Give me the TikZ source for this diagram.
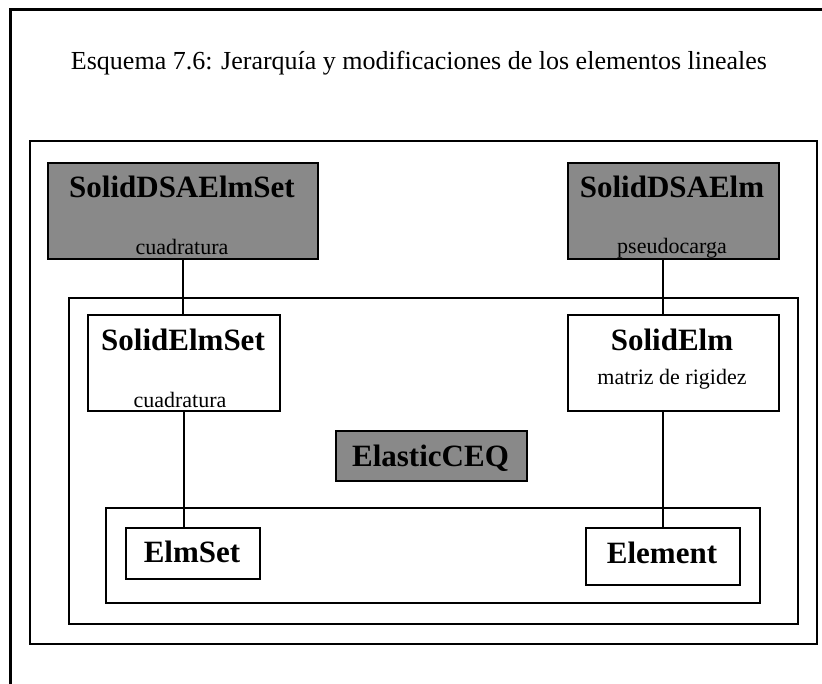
\documentclass[tikz,border=0pt]{standalone}
\usepackage{fontspec}
\setmainfont{Liberation Serif}
\definecolor{boxgray}{RGB}{137,137,137}
\begin{document}
\begin{tikzpicture}[x=1pt,y=-1pt,
  frame/.style={draw=black, line width=1.6pt, rectangle, inner sep=0pt, anchor=north west},
  box/.style={frame, fill=white},
  shaded/.style={frame, fill=boxgray},
  cls/.style={font=\fontsize{31}{31}\selectfont\bfseries, anchor=base, inner sep=0pt},
  note/.style={font=\fontsize{22}{22}\selectfont, anchor=base, inner sep=0pt},
  link/.style={line width=1.6pt}]

\useasboundingbox (0,0) rectangle (822,684);
\fill[white] (0,0) rectangle (822,684);

% page frame (left and top edges)
\draw[line width=3pt] (10.5,684) -- (10.5,9.5) -- (822,9.5);

% caption
\node[font=\fontsize{26}{26}\selectfont, anchor=base, inner sep=0pt] (title) at (419,70)
  {Esquema 7.6: Jerarquía y modificaciones de los elementos lineales};

% nested frames
\node[frame, minimum width=787pt, minimum height=503pt] (outer) at (29,140) {};
\node[frame, minimum width=729pt, minimum height=326pt] (middle) at (68,297) {};
\node[frame, minimum width=654pt, minimum height=95pt] (inner) at (105,507) {};

% sensitivity-analysis classes
\node[shaded, minimum width=270pt, minimum height=96pt] (dsaset) at (47,162) {};
\node[cls] (dsasetname) at (182,198) {SolidDSAElmSet};
\node[note] (dsasetnote) at (182,255) {cuadratura};

\node[shaded, minimum width=211pt, minimum height=96pt] (dsaelm) at (567,162) {};
\node[cls] (dsaelmname) at (672,198) {SolidDSAElm};
\node[note] (dsaelmnote) at (672,254) {pseudocarga};

% solid-mechanics classes
\node[box, minimum width=192pt, minimum height=96pt] (solidset) at (87,314) {};
\node[cls] (solidsetname) at (183,351) {SolidElmSet};
\node[note] (solidsetnote) at (180,407) {cuadratura};

\node[box, minimum width=211pt, minimum height=96pt] (solidelm) at (567,314) {};
\node[cls] (solidelmname) at (672,351) {SolidElm};
\node[note] (solidelmnote) at (672,385) {matriz de rigidez};

% constitutive equation
\node[shaded, minimum width=191pt, minimum height=50pt] (ceq) at (335,430) {};
\node[cls] (ceqname) at (430.5,466) {ElasticCEQ};

% base classes
\node[box, minimum width=134pt, minimum height=51pt] (elmset) at (125,527) {};
\node[cls] (elmsetname) at (192,562) {ElmSet};

\node[box, minimum width=154pt, minimum height=57pt] (element) at (585,527) {};
\node[cls] (elementname) at (662,563) {Element};

% inheritance links
\draw[link] (dsaset.south) -- (dsaset.south |- solidset.north);
\draw[link] (solidset.south) -- (solidset.south |- elmset.north);
\draw[link] (element.north |- dsaelm.south) -- (element.north |- solidelm.north);
\draw[link] (element.north |- solidelm.south) -- (element.north);

\end{tikzpicture}
\end{document}
